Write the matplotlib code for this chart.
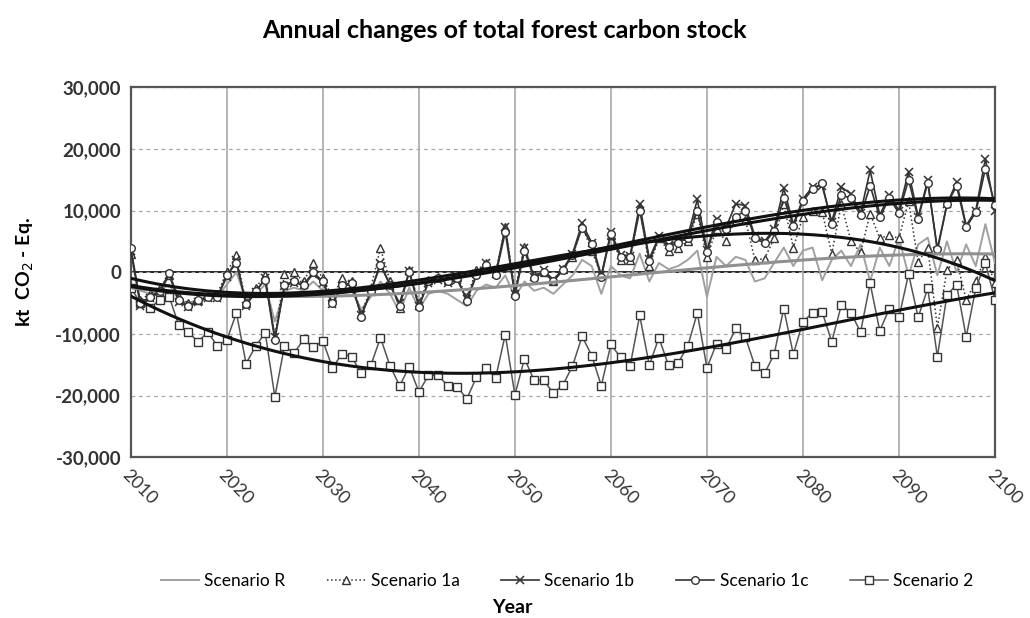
import numpy as np
import matplotlib.pyplot as plt

plt.rcParams['font.family'] = ['Lato', 'DejaVu Sans']

years = np.arange(2010, 2101)

scen_r = [-2500, -3000, -3500, -3000, -2000, -4500, -5000, -4500, -4000, -4000,
          -2000, 0, -4500, -3500, -2000, -8000, -3000, -2500, -3000, -1500,
          -3000, -4500, -3000, -3000, -6000, -4000, -1500, -3500, -6500, -2500,
          -6000, -3500, -3000, -3500, -4500, -5500, -3000, -2000, -2500, -500,
          -4000, -1500, -3000, -2500, -3500, -2000, -500, 2000, 1000, -3500,
          1000, -500, -1000, 3000, -1500, 1500, 500, 1000, 2000, 3500,
          -4000, 2500, 1000, 2500, 2000, -1500, -1000, 1500, 4000, 1000,
          3500, 4000, -1300, 2000, 3500, 1000, 4500, -1500, 4000, 1000,
          5500, -500, 4500, 5600, -500, 5000, 0, 4500, 1000, 7800,
          1500]

scen_1a = [3000, -4500, -3500, -2500, -500, -4000, -5000, -4500, -3500, -3500,
           0, 2800, -5000, -2500, -500, -10500, -300, 0, -1500, 1500,
           -1000, -4000, -1000, -1500, -6800, -2500, 3900, -1500, -5800, 300,
           -5000, -1200, -800, -1200, -800, -4000, 300, 1500, 0, 7400,
           -3000, 4100, -500, 0, -1500, 500, 2500, 7500, 3500, -500,
           6000, 2000, 2000, 10500, 1000, 5500, 3500, 4000, 5000, 9500,
           2500, 7000, 5000, 9000, 8500, 2000, 2200, 5500, 11000, 4000,
           9000, 10000, 9800, 3000, 11000, 5000, 3200, 9500, 5500, 6000,
           5500, 11500, 1700, 4000, -9000, 400, 2000, -4500, -1500, 2500,
           -1800]

scen_1b = [3500, -5500, -4200, -3200, -500, -4800, -5600, -4800, -4200, -4100,
           -700, 2000, -5400, -3200, -1000, -10500, -2200, -1700, -2100, -300,
           -1700, -5200, -2200, -2000, -7000, -3200, 1500, -2200, -5000, 200,
           -5400, -1700, -1200, -1700, -1200, -4400, -300, 1500, -300, 7300,
           -3500, 4000, -800, 300, -1200, 500, 3000, 7900, 4800, -500,
           6500, 2800, 2700, 11000, 2200, 5800, 4400, 5100, 5800, 11800,
           3600, 8700, 7300, 11100, 10800, 5800, 5000, 7000, 13600, 7800,
           11900, 13800, 14000, 8200, 13800, 12700, 9600, 16500, 9300, 12500,
           10000, 16300, 9000, 14900, 3500, 11000, 14600, 7600, 10000, 18400,
           10000]

scen_1c = [4000, -5000, -4000, -3000, -200, -4500, -5500, -4500, -4000, -4000,
           -500, 1500, -5200, -3000, -1200, -11000, -2000, -1500, -2000, 0,
           -1500, -5000, -2000, -1800, -7200, -3000, 1100, -2000, -5400, 0,
           -5600, -1500, -1000, -1500, -1000, -4600, -500, 1200, -500, 6500,
           -3800, 3500, -1000, 0, -1500, 300, 2800, 7200, 4500, -800,
           6200, 2500, 2500, 10000, 1900, 5500, 4100, 4800, 5500, 10000,
           3300, 8200, 7000, 9000, 10000, 5500, 4700, 6700, 12000, 7500,
           11500, 13500, 14400, 7800, 12500, 12000, 9200, 14000, 8900, 12000,
           9600, 15000, 8700, 14500, 3800, 11000, 14000, 7300, 9700, 16800,
           10900]

scen_2 = [-2500, -5000, -5800, -4500, -4000, -8600, -9700, -11300, -9700, -11900,
          -11000, -6600, -14800, -12000, -9800, -20200, -12000, -13100, -10900, -12200,
          -11100, -15500, -13200, -13700, -16400, -15100, -10600, -15200, -18400, -15300,
          -19400, -16700, -16700, -18400, -18600, -20500, -17000, -15600, -17100, -10100,
          -19900, -14000, -17500, -17500, -19600, -18300, -15200, -10400, -13500, -18400,
          -11700, -13800, -15200, -7000, -15100, -10600, -15100, -14700, -12000, -6600,
          -15500, -11600, -12400, -9100, -10500, -15200, -16400, -13300, -5900, -13300,
          -8000, -6600, -6400, -11300, -5300, -6600, -9700, -1800, -9500, -5900,
          -7300, -300, -7300, -2600, -13700, -3700, -2000, -10500, -2600, 1500,
          -4500]

labels = ['Scenario R', 'Scenario 1a', 'Scenario 1b', 'Scenario 1c', 'Scenario 2']

fig = plt.figure(figsize=(10.3, 6.18), dpi=100)
ax = fig.add_axes([0.127, 0.26, 0.839, 0.599])

ax.axhline(0, color='black', lw=1.2, zorder=1)

# series
ax.plot(years, scen_r, color='#a0a0a0', lw=1.4, label=labels[0], zorder=3)
ax.plot(years, scen_1a, color='#333333', lw=1.1, ls=':', marker='^', ms=5.5,
        mfc='white', mec='#333333', mew=1, label=labels[1], zorder=4)
ax.plot(years, scen_1b, color='#333333', lw=1.2, marker='x', ms=5.5,
        mec='#333333', mew=1.1, label=labels[2], zorder=5)
ax.plot(years, scen_1c, color='#333333', lw=1.2, marker='o', ms=5.5,
        mfc='white', mec='#333333', mew=1, label=labels[3], zorder=6)
ax.plot(years, scen_2, color='#555555', lw=1.1, marker='s', ms=5.5,
        mfc='white', mec='#333333', mew=1, label=labels[4], zorder=4)

# 3rd order polynomial trend lines (first year left out of the fit)
t = years - 2010
for ys, col in [(scen_r, '#909090'), (scen_1a, '#111111'), (scen_1b, '#111111'),
                (scen_1c, '#111111'), (scen_2, '#111111')]:
    c = np.polyfit(t[1:], ys[1:], 3)
    ax.plot(years, np.polyval(c, t), color=col, lw=2.2, zorder=7)

ax.set_xlim(2010, 2100)
ax.set_ylim(-30000, 30000)
ax.set_xticks(np.arange(2010, 2101, 10))
ax.set_yticks(np.arange(-30000, 30001, 10000))
ax.set_yticklabels([f'{v:,}' for v in range(-30000, 30001, 10000)],
                   fontsize=13.5, fontweight='bold', color='#333333')
ax.set_xticklabels([str(v) for v in range(2010, 2101, 10)], rotation=-45,
                   ha='left', rotation_mode='anchor', fontsize=13, color='#333333')
ax.tick_params(length=0, pad=7)

ax.grid(axis='x', color='#a8a8a8', lw=1.2, zorder=0)
ax.grid(axis='y', color='#a8a8a8', lw=0.9, ls=(0, (3, 3)), zorder=0)
for s in ax.spines.values():
    s.set_color('#555555')
    s.set_linewidth(1.6)

ax.set_ylabel('kt  CO$_2$ - Eq.', fontsize=14, fontweight='bold', labelpad=14)
fig.text(0.497, 0.008, 'Year', fontsize=14, fontweight='bold', ha='center')
fig.text(0.49, 0.951, 'Annual changes of total forest carbon stock', fontsize=18,
         fontweight='bold', ha='center', va='center')

ax.legend(loc='center', bbox_to_anchor=(0.505, -0.333), ncol=5, frameon=False,
          fontsize=12.5, handlelength=2.2, handletextpad=0.3, columnspacing=2.4)

fig.savefig('out.png', dpi=100)
